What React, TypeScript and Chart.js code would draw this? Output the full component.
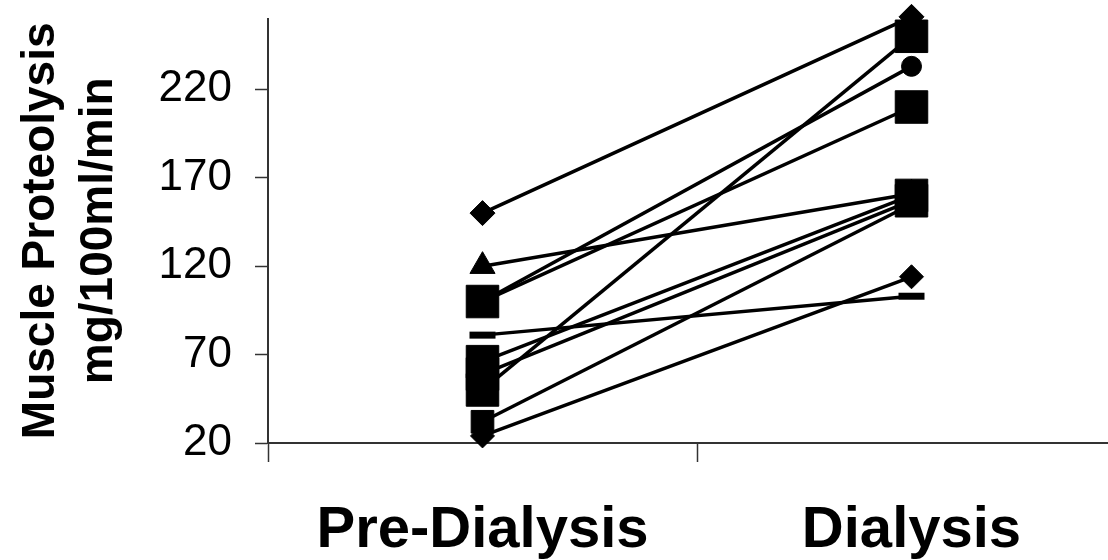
import { useEffect, useRef } from 'react';
import { Chart, registerables } from 'chart.js';

Chart.register(...registerables);

// Paired measurements per subject: before dialysis and during dialysis
const categories = ['Pre-Dialysis', 'Dialysis'];
const preDialysis = [150, 100, 100, 50, 120, 81, 66, 59, 32, 24];
const duringDialysis = [261, 233, 210, 250, 161, 103, 160, 157, 155, 114];
const yTicks = [20, 70, 120, 170, 220];
const yTitle = ['Muscle Proteolysis', 'mg/100ml/min'];

// Marker shape and size for each subject
const markerStyles = ['rectRot', 'circle', 'rect', 'rect', 'triangle', 'line', 'rect', 'rect', 'rect', 'rectRot'];
const markerRadii = [12.5, 10, 23, 23, 14.5, 13, 23, 23, 16, 12];

const FONT = '"Liberation Sans", Arial, Helvetica, sans-serif';
const INK = '#000000';
const AXIS = '#333333';

// The plot runs past the right edge of the page, so the canvas is wider than the window
const CANVAS_W = 1130;
const CANVAS_H = 560;

export default function App() {
  const canvasRef = useRef<HTMLCanvasElement | null>(null);

  useEffect(() => {
    const canvas = canvasRef.current;
    if (!canvas) return;

    const datasets = preDialysis.map((pre, i) => {
      const isLine = markerStyles[i] === 'line';
      return {
        label: `Subject ${i + 1}`,
        data: [pre, duringDialysis[i]],
        borderColor: INK,
        borderWidth: 3.5,
        backgroundColor: INK,
        pointStyle: markerStyles[i] as any,
        pointRadius: markerRadii[i],
        pointBackgroundColor: INK,
        pointBorderColor: INK,
        pointBorderWidth: isLine ? 7 : 1,
        pointHoverRadius: markerRadii[i],
        tension: 0,
        fill: false,
        clip: false as any,
      };
    });

    const chart = new Chart(canvas, {
      type: 'line',
      data: { labels: categories, datasets },
      options: {
        animation: false,
        responsive: false,
        devicePixelRatio: 1,
        layout: { autoPadding: false, padding: { top: 18.6, right: 4, bottom: 0, left: 0 } },
        plugins: {
          legend: { display: false },
          tooltip: { enabled: false },
          title: { display: false },
        },
        scales: {
          x: {
            type: 'category',
            offset: true,
            grid: {
              offset: true,
              drawOnChartArea: false,
              drawTicks: true,
              tickLength: 19,
              tickWidth: 1.5,
              tickColor: AXIS,
            },
            border: { display: true, color: AXIS, width: 2 },
            ticks: {
              color: INK,
              padding: 34,
              maxRotation: 0,
              autoSkip: false,
              font: { family: FONT, size: 58, weight: 'bold', lineHeight: 1.2 },
            },
            afterFit: (scale: any) => {
              scale.height = 117;
              scale.paddingLeft = 0;
              scale.paddingRight = 0;
            },
          },
          y: {
            type: 'linear',
            min: 20,
            max: 260,
            afterBuildTicks: (scale: any) => {
              scale.ticks = yTicks.map((v) => ({ value: v }));
            },
            grid: {
              drawOnChartArea: false,
              drawTicks: true,
              tickLength: 13,
              tickWidth: 1.5,
              tickColor: AXIS,
            },
            border: { display: true, color: AXIS, width: 2 },
            ticks: {
              color: INK,
              padding: 23,
              font: { family: FONT, size: 44, weight: 'normal' },
            },
            title: {
              display: true,
              text: yTitle,
              color: INK,
              padding: { top: 13, bottom: 0 },
              font: { family: FONT, size: 46, weight: 'bold', lineHeight: 1.25 },
            },
            afterFit: (scale: any) => {
              scale.width = 268;
              scale.paddingTop = 0;
              scale.paddingBottom = 0;
            },
          },
        },
      },
    });

    return () => chart.destroy();
  }, []);

  return (
    <div
      style={{
        position: 'fixed',
        left: 0,
        top: 0,
        width: `${CANVAS_W}px`,
        height: `${CANVAS_H}px`,
        background: '#ffffff',
      }}
    >
      <canvas
        ref={canvasRef}
        width={CANVAS_W}
        height={CANVAS_H}
        style={{ display: 'block', width: `${CANVAS_W}px`, height: `${CANVAS_H}px` }}
      />
    </div>
  );
}
